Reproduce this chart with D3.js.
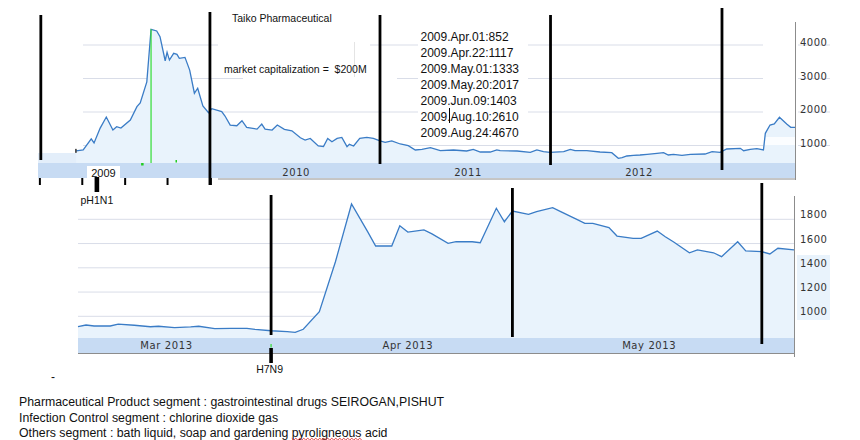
<!DOCTYPE html>
<html>
<head>
<meta charset="utf-8">
<script src="https://cdn.jsdelivr.net/npm/d3@7.9.0/dist/d3.min.js"></script>
<style>
  html, body { margin: 0; background: #fff; }
  svg { display: block; }
</style>
</head>
<body>
<div id="chart"></div>
<script>
// ---------- data: long view 2009 - 2013 ----------
const topDates = [
  '2009-04-01','2009-04-16','2009-05-03','2009-05-09','2009-05-22','2009-06-04','2009-06-18','2009-06-26',
  '2009-07-05','2009-07-25','2009-08-08','2009-08-15','2009-08-29','2009-09-07','2009-09-19','2009-09-26',
  '2009-10-07','2009-10-11','2009-10-16','2009-10-25','2009-11-01','2009-11-06','2009-11-18','2009-11-28',
  '2009-12-08','2009-12-15','2009-12-26','2010-01-07','2010-01-14','2010-02-04','2010-02-11','2010-02-22',
  '2010-03-08','2010-03-19','2010-03-29','2010-04-20','2010-04-30','2010-05-07','2010-05-22','2010-06-02',
  '2010-06-17','2010-07-03','2010-07-21','2010-07-31','2010-08-11','2010-08-28','2010-09-08','2010-09-17',
  '2010-09-26','2010-10-07','2010-10-17','2010-10-28','2010-11-02','2010-11-11','2010-11-24','2010-12-09',
  '2010-12-23','2011-01-06','2011-01-17','2011-01-31','2011-02-18','2011-03-07','2011-03-22','2011-04-05',
  '2011-04-23','2011-05-14','2011-06-11','2011-07-09','2011-07-23','2011-08-07','2011-08-28','2011-09-11',
  '2011-09-18','2011-10-24','2011-11-21','2011-12-05','2011-12-19','2012-01-02','2012-01-31','2012-02-14',
  '2012-02-24','2012-03-20','2012-04-17','2012-05-12','2012-05-26','2012-06-03','2012-06-13','2012-06-27',
  '2012-07-11','2012-07-26','2012-08-16','2012-08-30','2012-09-09','2012-09-20','2012-10-08','2012-10-26',
  '2012-11-26','2012-12-11','2012-12-28','2013-01-11','2013-02-09','2013-02-16','2013-03-02','2013-03-16',
  '2013-03-30','2013-04-03','2013-04-13','2013-04-22','2013-05-03','2013-05-19','2013-05-27','2013-06-05'
];
const topValues = [
  840, 866, 1200, 1075, 1520, 1850, 1463, 1560,
  1520, 1760, 2160, 2270, 2900, 4470, 4420, 4250,
  3530, 3780, 3550, 3750, 3720, 3600, 3630, 3250,
  2560, 2710, 2180, 1980, 2100, 2010, 1880, 1610,
  1590, 1740, 1540, 1490, 1640, 1490, 1460, 1610,
  1480, 1440, 1230, 1160, 1210, 985, 965, 1210,
  1110, 1210, 1240, 965, 1035, 985, 1210, 1240,
  1210, 1140, 1095, 1140, 1045, 995, 866, 886,
  934, 845, 866, 836, 886, 806, 806, 866,
  845, 836, 796, 866, 815, 796, 815, 886,
  845, 845, 806, 786, 618, 637, 687, 707,
  716, 737, 767, 786, 716, 737, 707, 737,
  746, 815, 796, 896, 916, 845, 886, 905,
  866, 1364, 1612, 1642, 1842, 1632, 1542, 1542
];
const topTicks = [1000, 2000, 3000, 4000];
const yearLabels = ['2010', '2011', '2012'];
const yearLabelDates = ['2010-07-12', '2011-07-12', '2012-07-09'];
const yearMarks = ['2009-01-16', '2010-01-10', '2011-01-06', '2012-01-03', '2013-01-01'];
const quarterTicks = ['2009-01-14', '2009-04-14', '2009-07-14', '2009-10-12', '2010-01-12'];
const pandemicDate = '2009-05-15';
const peakDate = '2009-09-07';
const newsDots = ['2009-08-19', '2009-10-31'];
const priceNotes = [
  '2009.Apr.01:852', '2009.Apr.22:1117', '2009.May.01:1333', '2009.May.20:2017',
  '2009.Jun.09:1403', '2009.Aug.10:2610', '2009.Aug.24:4670'
];

// ---------- data: zoom on spring 2013 ----------
const botDates = [
  '2013-03-08','2013-03-09','2013-03-10','2013-03-12','2013-03-13','2013-03-15','2013-03-17','2013-03-18',
  '2013-03-20','2013-03-22','2013-03-23','2013-03-25','2013-03-27','2013-03-29','2013-03-30','2013-04-01',
  '2013-04-03','2013-04-04','2013-04-05','2013-04-07','2013-04-09','2013-04-11','2013-04-13','2013-04-14',
  '2013-04-16','2013-04-17','2013-04-18','2013-04-20','2013-04-21','2013-04-23','2013-04-24','2013-04-26',
  '2013-04-27','2013-04-29','2013-04-30','2013-05-01','2013-05-03','2013-05-04','2013-05-06','2013-05-07',
  '2013-05-09','2013-05-10','2013-05-11','2013-05-13','2013-05-14','2013-05-16','2013-05-17','2013-05-19',
  '2013-05-20','2013-05-21','2013-05-23','2013-05-24','2013-05-26','2013-05-27','2013-05-29','2013-05-30',
  '2013-06-01','2013-06-02','2013-06-03','2013-06-05'
];
const botValues = [
  914, 928, 920, 920, 936, 926, 914, 918,
  906, 912, 918, 898, 901, 901, 893, 881,
  873, 868, 893, 1038, 1450, 1926, 1698, 1580,
  1580, 1747, 1695, 1712, 1680, 1602, 1615, 1615,
  1607, 1891, 1780, 1868, 1841, 1863, 1896, 1863,
  1800, 1767, 1767, 1731, 1662, 1643, 1643, 1703,
  1656, 1615, 1524, 1547, 1524, 1492, 1615, 1539,
  1533, 1514, 1561, 1547
];
const botTicks = [1000, 1200, 1400, 1600, 1800];
const monthLabels = ['Mar 2013', 'Apr 2013', 'May 2013'];
const monthLabelDates = ['2013-03-19', '2013-04-18', '2013-05-18'];
const monthMarks = ['2013-04-01', '2013-05-01', '2013-06-01'];
const h7n9Date = '2013-04-01';

const segmentNotes = [
  'Pharmaceutical Product segment : gastrointestinal drugs SEIROGAN,PISHUT',
  'Infection Control segment : chlorine dioxide gas',
  'Others segment : bath liquid, soap and gardening pyroligneous acid'
];

// ---------- theme ----------
const LINE = '#3a7cc6';
const FILL = '#e9f3fc';
const BAND = '#c7dbf3';
const GRID = '#d9dde8';
const AXIS = '#8c8c8c';
const ARIAL = '"Liberation Sans", Arial, sans-serif';
const VERD = '"DejaVu Sans", Verdana, sans-serif';

const parse = d3.timeParse('%Y-%m-%d');
const svg = d3.select('#chart').append('svg')
  .attr('width', 860).attr('height', 440)
  .style('font-family', ARIAL);

// ━━━━━━━━━━━━━━━ top panel ━━━━━━━━━━━━━━━
const topData = topDates.map((d, i) => ({ date: parse(d), value: topValues[i] }));
const xTop = d3.scaleTime().domain([parse('2009-01-10'), parse('2013-06-05')]).range([38, 795]);
const yTop = d3.scaleLinear().domain([0, 4000]).range([179, 45]);
const topBand = 163;

const gTop = svg.append('g');

gTop.append('rect').attr('x', 38).attr('y', 153).attr('width', 39).attr('height', 10).attr('fill', '#e3eefa');

// gridlines, plus the short stubs under the right-hand labels
gTop.selectAll('line.grid').data(topTicks).join('line')
  .attr('class', 'grid')
  .attr('x1', 83).attr('x2', 763)
  .attr('y1', d => yTop(d)).attr('y2', d => yTop(d))
  .attr('stroke', GRID);
gTop.selectAll('line.stub').data(topTicks).join('line')
  .attr('class', 'stub')
  .attr('x1', 798).attr('x2', 830)
  .attr('y1', d => yTop(d)).attr('y2', d => yTop(d))
  .attr('stroke', GRID);

// white patches behind the title notes
gTop.append('rect').attr('x', 218).attr('y', 8).attr('width', 152).attr('height', 54).attr('fill', '#fff');
gTop.append('rect').attr('x', 243).attr('y', 62).attr('width', 154).attr('height', 33).attr('fill', '#fff');
gTop.append('line').attr('x1', 354.5).attr('x2', 354.5).attr('y1', 42).attr('y2', 77).attr('stroke', '#e4e4e4');

gTop.append('path').datum(topData)
  .attr('fill', FILL)
  .attr('d', d3.area().x(d => xTop(d.date)).y0(topBand).y1(d => yTop(d.value)));

gTop.append('rect').attr('x', 765).attr('y', 137).attr('width', 30).attr('height', 8).attr('fill', '#fbfdff');

gTop.append('rect').attr('x', 38).attr('y', topBand).attr('width', 757).attr('height', 15).attr('fill', BAND);

gTop.append('line').attr('x1', 218).attr('x2', 795).attr('y1', 179).attr('y2', 179).attr('stroke', AXIS);
gTop.append('line').attr('x1', 795.5).attr('x2', 795.5).attr('y1', 22).attr('y2', 180).attr('stroke', AXIS);

gTop.append('path').datum(topData)
  .attr('fill', 'none').attr('stroke', LINE).attr('stroke-width', 1.3)
  .attr('d', d3.line().x(d => xTop(d.date)).y(d => yTop(d.value)));
gTop.append('rect').attr('x', xTop(topData[0].date) - 1).attr('y', yTop(topData[0].value) - 2)
  .attr('width', 1.5).attr('height', 4).attr('fill', '#333');

// green news marker at the peak
gTop.append('line')
  .attr('x1', xTop(parse(peakDate))).attr('x2', xTop(parse(peakDate)))
  .attr('y1', yTop(d3.max(topValues))).attr('y2', topBand)
  .attr('stroke', '#33dd33').attr('stroke-width', 1.2);
gTop.selectAll('rect.news').data(newsDots).join('rect')
  .attr('class', 'news')
  .attr('x', d => xTop(parse(d)) - 1).attr('y', (d, i) => i === 0 ? 163 : 160)
  .attr('width', (d, i) => i === 0 ? 2.5 : 1.5).attr('height', 2.5)
  .attr('fill', '#22cc22');

// year labels in the band
gTop.selectAll('text.year').data(yearLabels).join('text')
  .attr('class', 'year')
  .attr('x', (d, i) => xTop(parse(yearLabelDates[i])))
  .attr('y', 175.5)
  .attr('text-anchor', 'middle')
  .attr('font-family', VERD).attr('font-size', 10).attr('letter-spacing', 0.6)
  .attr('fill', '#333')
  .text(d => d);
gTop.append('rect').attr('x', 87).attr('y', 166).attr('width', 33).attr('height', 12).attr('fill', '#fff');
gTop.append('text').attr('x', 103.5).attr('y', 176.5).attr('text-anchor', 'middle')
  .attr('font-size', 11).attr('fill', '#111').text('2009');

// y labels
gTop.selectAll('text.ylab').data(topTicks).join('text')
  .attr('class', 'ylab')
  .attr('x', 800).attr('y', d => yTop(d) + 1)
  .attr('font-family', VERD).attr('font-size', 10).attr('letter-spacing', 0.5)
  .attr('fill', '#333')
  .text(d => d);

// hand-drawn year separators
gTop.selectAll('line.mark').data(yearMarks).join('line')
  .attr('class', 'mark')
  .attr('x1', d => xTop(parse(d))).attr('x2', d => xTop(parse(d)))
  .attr('y1', (d, i) => [15, 12, 15, 15, 8][i])
  .attr('y2', (d, i) => [160, 185, 164, 165, 170][i])
  .attr('stroke', '#000').attr('stroke-width', 2.8);

gTop.selectAll('line.qtick').data(quarterTicks).join('line')
  .attr('class', 'qtick')
  .attr('x1', d => xTop(parse(d))).attr('x2', d => xTop(parse(d)))
  .attr('y1', 178).attr('y2', 185)
  .attr('stroke', '#000').attr('stroke-width', 2);

gTop.append('rect').attr('x', xTop(parse(pandemicDate)) - 2.3).attr('y', 177)
  .attr('width', 4.6).attr('height', 15).attr('fill', '#000');
gTop.append('text').attr('x', xTop(parse(pandemicDate))).attr('y', 203.5)
  .attr('text-anchor', 'middle').attr('font-size', 10.5).attr('fill', '#111').text('pH1N1');

// notes
gTop.append('text').attr('x', 232).attr('y', 22).attr('font-size', 10.5).attr('fill', '#111')
  .text('Taiko Pharmaceutical');
gTop.append('text').attr('x', 224).attr('y', 72.5).attr('font-size', 10.5).attr('fill', '#111')
  .attr('xml:space', 'preserve').style('white-space', 'pre')
  .text('market capitalization =  $200M');

gTop.append('rect').attr('x', 418).attr('y', 27).attr('width', 110).attr('height', 114).attr('fill', '#fff');
gTop.selectAll('text.note').data(priceNotes).join('text')
  .attr('class', 'note')
  .attr('x', 420.5).attr('y', (d, i) => 40.5 + i * 16)
  .attr('font-size', 12).attr('fill', '#111')
  .text(d => d);
gTop.append('line').attr('x1', 449.5).attr('x2', 449.5).attr('y1', 108).attr('y2', 123)
  .attr('stroke', '#000').attr('stroke-width', 1);

// ━━━━━━━━━━━━━━━ bottom panel ━━━━━━━━━━━━━━━
const botData = botDates.map((d, i) => ({ date: parse(d), value: botValues[i] }));
const xBot = d3.scaleTime().domain([parse('2013-03-08'), parse('2013-06-05')]).range([78, 794]);
const yBot = d3.scaleLinear().domain([1000, 1800]).range([316.3, 219.3]);
const botBand = 338;

const gBot = svg.append('g');

gBot.selectAll('line.grid').data(botTicks).join('line')
  .attr('class', 'grid')
  .attr('x1', 78).attr('x2', 794)
  .attr('y1', d => yBot(d)).attr('y2', d => yBot(d))
  .attr('stroke', GRID);

gBot.append('path').datum(botData)
  .attr('fill', FILL)
  .attr('d', d3.area().x(d => xBot(d.date)).y0(botBand).y1(d => yBot(d.value)));

gBot.append('rect').attr('x', 78).attr('y', botBand).attr('width', 716).attr('height', 15).attr('fill', BAND);
gBot.append('line').attr('x1', 78).attr('x2', 794).attr('y1', 353.5).attr('y2', 353.5).attr('stroke', AXIS);
gBot.append('line').attr('x1', 794.5).attr('x2', 794.5).attr('y1', 196).attr('y2', 357).attr('stroke', AXIS);

gBot.append('path').datum(botData)
  .attr('fill', 'none').attr('stroke', LINE).attr('stroke-width', 1.3)
  .attr('d', d3.line().x(d => xBot(d.date)).y(d => yBot(d.value)));

gBot.append('rect').attr('x', 797).attr('y', 255).attr('width', 33).attr('height', 65).attr('fill', FILL);
gBot.selectAll('text.ylab').data(botTicks).join('text')
  .attr('class', 'ylab')
  .attr('x', 800).attr('y', d => yBot(d) - 1)
  .attr('font-family', VERD).attr('font-size', 10).attr('letter-spacing', 0.5)
  .attr('fill', '#333')
  .text(d => d);

gBot.selectAll('text.month').data(monthLabels).join('text')
  .attr('class', 'month')
  .attr('x', (d, i) => xBot(parse(monthLabelDates[i])))
  .attr('y', 349)
  .attr('text-anchor', 'middle')
  .attr('font-family', VERD).attr('font-size', 10).attr('letter-spacing', 0.6)
  .attr('fill', '#333')
  .text(d => d);

gBot.selectAll('line.mark').data(monthMarks).join('line')
  .attr('class', 'mark')
  .attr('x1', d => xBot(parse(d))).attr('x2', d => xBot(parse(d)))
  .attr('y1', (d, i) => [195, 188, 183][i])
  .attr('y2', (d, i) => [335, 337, 344][i])
  .attr('stroke', '#000').attr('stroke-width', 2.8);

const hx = xBot(parse(h7n9Date));
gBot.append('line').attr('x1', hx).attr('x2', hx).attr('y1', 344).attr('y2', 347.5)
  .attr('stroke', '#33dd33').attr('stroke-width', 1.2);
gBot.append('rect').attr('x', hx - 1.8).attr('y', 348).attr('width', 3.6).attr('height', 15).attr('fill', '#000');
gBot.append('text').attr('x', hx - 1.5).attr('y', 373)
  .attr('text-anchor', 'middle').attr('font-size', 10.5).attr('fill', '#111').text('H7N9');

// ━━━━━━━━━━━━━━━ footer notes ━━━━━━━━━━━━━━━
svg.append('text').attr('x', 51).attr('y', 381).attr('font-size', 12).attr('fill', '#111').text('-');
const notes = svg.selectAll('text.seg').data(segmentNotes).join('text')
  .attr('class', 'seg')
  .attr('x', 19).attr('y', (d, i) => 406 + i * 15.5)
  .attr('font-size', 12.3).attr('fill', '#111')
  .text(d => d);

// spell-check squiggle under "pyroligneous"
const last = notes.filter((d, i) => i === 2).node();
const word = 'pyroligneous';
const at = segmentNotes[2].indexOf(word);
const sx = 19 + last.getSubStringLength(0, at);
const sw = last.getSubStringLength(at, word.length);
const wave = d3.path();
wave.moveTo(sx, 438.3);
for (let k = 0, px = sx; px < sx + sw; k++) {
  px += 2;
  wave.lineTo(px, k % 2 ? 438.3 : 440);
}
svg.append('path').attr('d', wave.toString()).attr('fill', 'none')
  .attr('stroke', '#e03030').attr('stroke-width', 0.9);
</script>
</body>
</html>
